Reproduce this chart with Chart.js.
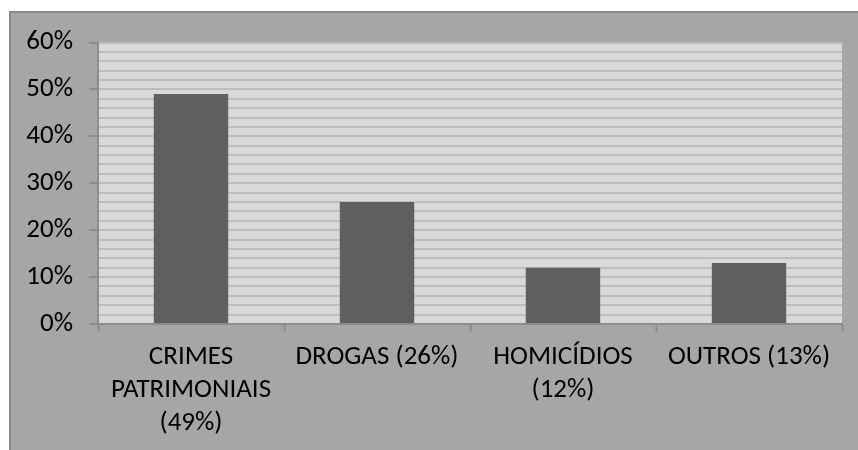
<!DOCTYPE html>
<html>
<head>
<meta charset="utf-8">
<script src="https://cdn.jsdelivr.net/npm/chart.js@4/dist/chart.umd.min.js"></script>
<style>
  html, body { margin: 0; padding: 0; background: #ffffff; overflow: hidden; }
  #frame {
    position: absolute; left: 9px; top: 11px;
    width: 849px; height: 439px;
    background: #a6a6a6;
    border-left: 2px solid #8a8a8a;
    border-top: 2px solid #8a8a8a;
    box-sizing: border-box;
  }
  #chart { display: block; }
</style>
</head>
<body>
<div id="frame"><canvas id="chart" width="847" height="437"></canvas></div>
<script>
// Crime categories (labels already wrapped the way the original shows them)
const categories = [
  ["CRIMES", "PATRIMONIAIS", "(49%)"],
  "DROGAS (26%)",
  ["HOMICÍDIOS", "(12%)"],
  "OUTROS (13%)"
];
const shares = [49, 26, 12, 13];
const yMax = 60;
const gridStep = 2;
const labelStep = 10;

const fontFamily = "Carlito, Lato, 'Open Sans', sans-serif";

// paint the plot area background
const plotBackground = {
  id: "plotBackground",
  beforeDraw(chart) {
    const { ctx, chartArea } = chart;
    ctx.save();
    ctx.fillStyle = "#d9d9d9";
    ctx.fillRect(chartArea.left, chartArea.top, chartArea.right - chartArea.left, chartArea.bottom - chartArea.top);
    ctx.restore();
  }
};

new Chart(document.getElementById("chart"), {
  type: "bar",
  data: {
    labels: categories,
    datasets: [{
      data: shares,
      backgroundColor: "#5f5f5f",
      borderWidth: 0,
      categoryPercentage: 1,
      barPercentage: 0.4
    }]
  },
  options: {
    responsive: false,
    animation: false,
    layout: { padding: { top: 26, right: 16, bottom: 0, left: 0 } },
    plugins: {
      legend: { display: false },
      tooltip: { enabled: false }
    },
    scales: {
      x: {
        grid: {
          offset: true,
          drawOnChartArea: false,
          drawTicks: true,
          tickLength: 8,
          tickColor: "#8c8c8c",
          tickWidth: 2
        },
        border: { color: "#8c8c8c", width: 2 },
        ticks: {
          autoSkip: false,
          maxRotation: 0,
          padding: 9,
          color: "#000000",
          font: { family: fontFamily, size: 27, lineHeight: 1.22 }
        },
        afterFit(scale) { scale.height = 126; }
      },
      y: {
        min: 0,
        max: yMax,
        grid: {
          color: "#bdbdbd",
          lineWidth: 2,
          tickLength: 9,
          tickWidth: 2,
          tickColor: (c) => (c.tick && c.tick.value % labelStep === 0 ? "#8c8c8c" : "rgba(0,0,0,0)")
        },
        border: { color: "#8c8c8c", width: 2 },
        ticks: {
          stepSize: gridStep,
          autoSkip: false,
          padding: 16,
          color: "#000000",
          font: { family: fontFamily, size: 27, lineHeight: 1 },
          callback: (v) => (v % labelStep === 0 ? v + "%" : "")
        },
        afterFit(scale) { scale.width = 87; }
      }
    }
  },
  plugins: [plotBackground]
});
</script>
</body>
</html>
